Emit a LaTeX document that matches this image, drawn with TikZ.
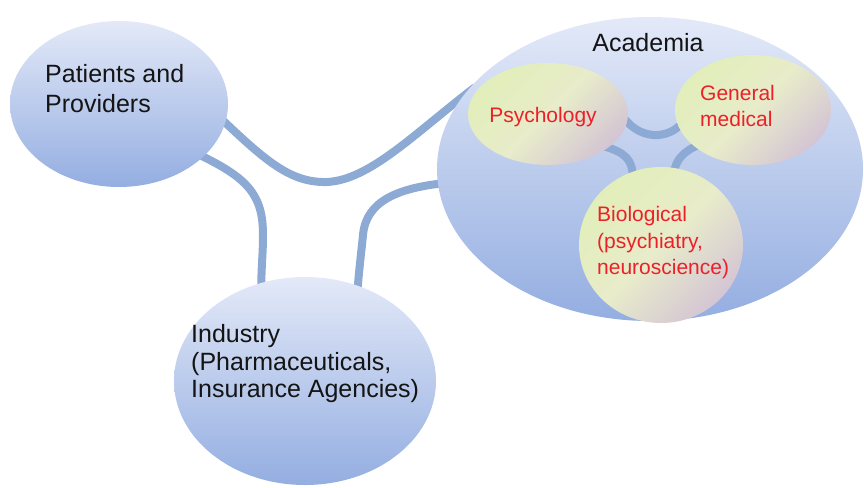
\documentclass[tikz,border=0pt]{standalone}
\usepackage{fontspec}
\setmainfont{Liberation Sans}
\usetikzlibrary{shapes.geometric}
\definecolor{bluetop}{RGB}{227,233,248}
\definecolor{bluebot}{RGB}{148,174,225}
\definecolor{innerA}{RGB}{226,238,186}
\definecolor{innerM}{RGB}{232,236,202}
\definecolor{innerB}{RGB}{212,197,212}
\definecolor{conn}{RGB}{140,170,212}
\definecolor{redtxt}{RGB}{236,32,40}
\definecolor{blacktxt}{RGB}{20,20,20}
\pgfdeclarelayer{back}\pgfdeclarelayer{mid}\pgfdeclarelayer{front}
\pgfsetlayers{back,main,mid,front}
\tikzset{
  bigell/.style={ellipse, draw=none, top color=bluetop, bottom color=bluebot, inner sep=0pt},
  smallell/.style={ellipse, draw=none, top color=innerA, bottom color=innerB, middle color=innerM, shading angle=45, inner sep=0pt},
  link/.style={draw=conn, line width=8pt, shorten <=-6pt, shorten >=-6pt},
  blk/.style={text=blacktxt, inner sep=0pt, align=left},
  rd/.style={text=redtxt, inner sep=0pt, align=left},
}
\begin{document}
\begin{tikzpicture}[x=1pt,y=-1pt]
\useasboundingbox (0,0) rectangle (864,487);
% outer ellipses
\node[bigell, minimum width=218pt, minimum height=166pt] (pat) at (119,104) {};
\node[bigell, minimum width=426pt, minimum height=304pt] (acad) at (650,169) {};
\node[bigell, minimum width=262pt, minimum height=208pt] (ind) at (305,381) {};
% outer connectors
\begin{pgfonlayer}{back}
\draw[link, shorten >=-16pt] (pat.-10) .. controls (265,160) and (290,183) .. (327,182)
  .. controls (370,180) and (415,133) .. (acad.159);
\draw[link] (pat.-32) .. controls (248,178) and (263,195) .. (263,235)
  .. controls (263,255) and (261,270) .. (ind.114);
\draw[link] (acad.184) .. controls (400,188) and (366,200) .. (363,235)
  .. controls (361,255) and (359,270) .. (ind.61);
\end{pgfonlayer}
% inner ellipses
\begin{pgfonlayer}{front}
\node[smallell, minimum width=160pt, minimum height=102pt] (psy) at (548,114) {};
\node[smallell, minimum width=156pt, minimum height=110pt] (gen) at (753,110) {};
\node[smallell, minimum width=164pt, minimum height=156pt] (bio) at (661,245) {};
\end{pgfonlayer}
% inner connectors
\begin{pgfonlayer}{mid}
\draw[link] (psy.-6) .. controls (640,140) and (668,140) .. (gen.193);
\draw[link] (psy.-29) .. controls (625,152) and (633,160) .. (bio.111);
\draw[link] (gen.212) .. controls (682,152) and (676,160) .. (bio.80);
\end{pgfonlayer}
% texts
\begin{pgfonlayer}{front}
\node[blk, anchor=west, font=\fontsize{25}{30}\selectfont] (tpat) at (45,89) {Patients and\\Providers};
\node[blk, anchor=center, font=\fontsize{25}{30}\selectfont] (tacad) at (648,43) {Academia};
\node[blk, anchor=west, font=\fontsize{25}{27.5}\selectfont] (tind) at (191,364) {Industry\\(Pharmaceuticals,\\Insurance Agencies)};
\node[rd, anchor=center, font=\fontsize{21}{26}\selectfont] (tpsy) at (543,117) {Psychology};
\node[rd, anchor=west, font=\fontsize{21}{26}\selectfont] (tgen) at (700,106) {General\\medical};
\node[rd, anchor=west, font=\fontsize{21}{26.5}\selectfont] (tbio) at (597,243) {Biological\\(psychiatry,\\neuroscience)};
\end{pgfonlayer}
\end{tikzpicture}
\end{document}
